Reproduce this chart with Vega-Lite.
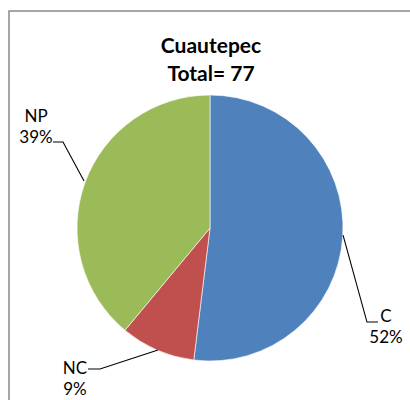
{
  "$schema": "https://vega.github.io/schema/vega-lite/v6.json",
  "width": 410,
  "height": 400,
  "autosize": "none",
  "padding": {"left": 9, "top": 11, "right": 0, "bottom": 0},
  "background": "#ffffff",
  "view": {"stroke": "#898989", "strokeWidth": 1.5},
  "title": {
    "text": ["Cuautepec", "Total= 77"],
    "frame": "group",
    "anchor": "middle",
    "font": "Lato",
    "fontSize": 21,
    "fontWeight": "bold",
    "color": "#000000",
    "lineHeight": 28,
    "offset": -74,
    "dx": -3
  },
  "datasets": {
    "pie": [
      {"category": "C", "count": 40},
      {"category": "NC", "count": 7},
      {"category": "NP", "count": 30}
    ],
    "leaders": [
      {"label": "NP", "idx": 0, "px": -1.180, "py": 0.647},
      {"label": "NP", "idx": 1, "px": -1.105, "py": 0.647},
      {"label": "NP", "idx": 2, "px": -0.947, "py": 0.353},
      {"label": "C", "idx": 0, "px": 1.000, "py": -0.053},
      {"label": "C", "idx": 1, "px": 1.180, "py": -0.707},
      {"label": "C", "idx": 2, "px": 1.263, "py": -0.707},
      {"label": "NC", "idx": 0, "px": -0.917, "py": -1.060},
      {"label": "NC", "idx": 1, "px": -0.827, "py": -1.060},
      {"label": "NC", "idx": 2, "px": -0.391, "py": -0.917}
    ],
    "labels": [
      {"label": "NP\n39%", "px": -1.308, "py": 0.797},
      {"label": "C\n52%", "px": 1.323, "py": -0.707},
      {"label": "NC\n9%", "px": -1.015, "py": -1.098}
    ]
  },
  "layer": [
    {
      "data": {"name": "pie"},
      "mark": {"type": "arc", "outerRadius": 133, "stroke": "#ffffff", "strokeWidth": 0.6},
      "encoding": {
        "x": {"datum": 0, "type": "quantitative", "scale": {"domain": [-1.511, 1.571], "nice": false, "zero": false}, "axis": null},
        "y": {"datum": 0, "type": "quantitative", "scale": {"domain": [-1.376, 1.632], "nice": false, "zero": false}, "axis": null},
        "theta": {"field": "count", "type": "quantitative", "stack": true},
        "color": {"field": "category", "type": "nominal", "scale": {"domain": ["C", "NC", "NP"], "range": ["#4F81BD", "#C0504D", "#9BBB59"]}, "legend": null},
        "order": {"field": "category", "sort": "ascending"}
      }
    },
    {
      "data": {"name": "leaders"},
      "mark": {"type": "line", "color": "#000000", "strokeWidth": 1.1},
      "encoding": {
        "x": {"field": "px", "type": "quantitative", "scale": {"domain": [-1.511, 1.571], "nice": false, "zero": false}, "axis": null},
        "y": {"field": "py", "type": "quantitative", "scale": {"domain": [-1.376, 1.632], "nice": false, "zero": false}, "axis": null},
        "detail": {"field": "label"},
        "order": {"field": "idx"}
      }
    },
    {
      "data": {"name": "labels"},
      "mark": {"type": "text", "font": "Lato", "fontSize": 17, "lineHeight": 21, "lineBreak": "\n", "baseline": "alphabetic", "align": "center", "color": "#000000"},
      "encoding": {
        "x": {"field": "px", "type": "quantitative", "scale": {"domain": [-1.511, 1.571], "nice": false, "zero": false}, "axis": null},
        "y": {"field": "py", "type": "quantitative", "scale": {"domain": [-1.376, 1.632], "nice": false, "zero": false}, "axis": null},
        "text": {"field": "label"}
      }
    }
  ]
}
